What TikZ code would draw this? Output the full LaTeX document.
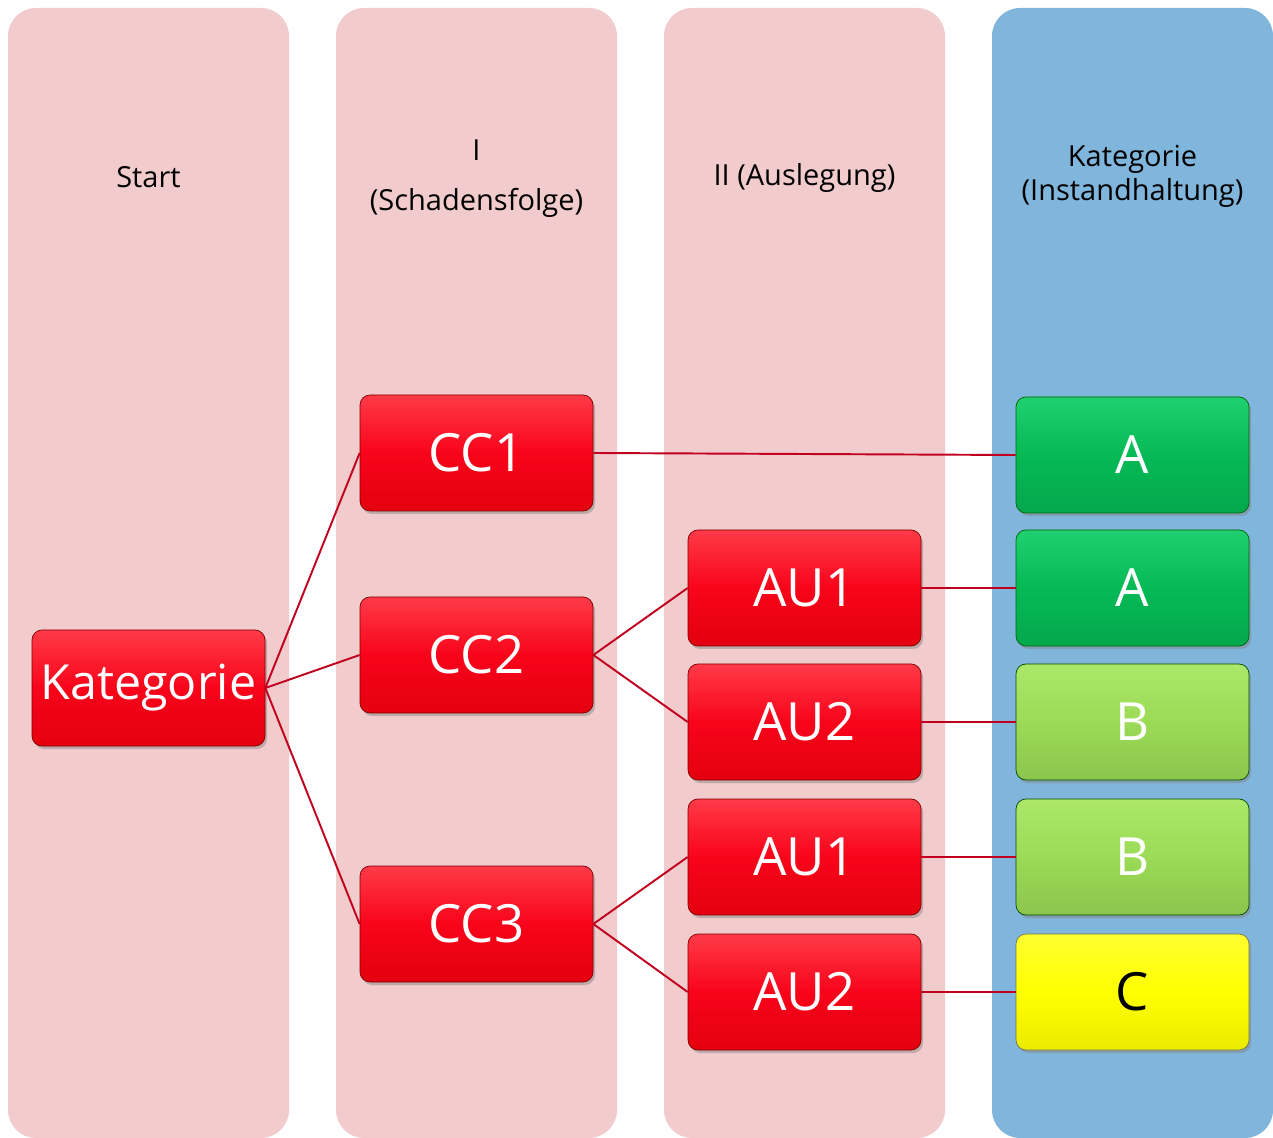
\documentclass[tikz,border=0pt]{standalone}
\usepackage{fontspec}
\setmainfont{Open Sans}
\usepackage{tikz}
\usetikzlibrary{positioning,shadows}
\tikzset{>=latex}
\definecolor{lanepink}{HTML}{F2CBCC}
\definecolor{laneblue}{HTML}{80B5DC}
\definecolor{redtop}{HTML}{FF3A48}
\definecolor{redmid}{HTML}{F8041A}
\definecolor{redbot}{HTML}{E3000F}
\definecolor{redline}{HTML}{C0001E}
\definecolor{greentop}{HTML}{20D070}
\definecolor{greenmid}{HTML}{05BA55}
\definecolor{limetop}{HTML}{ABE86A}
\definecolor{limemid}{HTML}{9BDB56}
\definecolor{yeltop}{HTML}{FFFF30}
\definecolor{yelmid}{HTML}{FFFF00}

\begin{document}
\begin{tikzpicture}[box/.style={rounded corners=0.2cm, minimum width=4.66cm, minimum height=2.32cm, inner sep=0pt,
      text=white, font=\fontsize{30}{34}\selectfont, drop shadow={shadow xshift=0.04cm, shadow yshift=-0.06cm, opacity=0.45}},
    redbox/.style={box, draw=red!50!black, top color=redtop, bottom color=redbot, middle color=redmid},
    greenbox/.style={box, draw=green!40!black, top color=greentop, bottom color=greenmid!90!black, middle color=greenmid},
    limebox/.style={box, draw=green!30!black, top color=limetop, bottom color=limemid!90!black, middle color=limemid},
    yelbox/.style={box, draw=yellow!40!black, top color=yeltop, bottom color=yelmid!92!black, middle color=yelmid, text=black},
    head/.style={align=center, font=\fontsize{16.5}{19.5}\selectfont},
    link/.style={draw=redline, line width=1.1pt},
    node distance=6.56cm, on grid, auto]
	\useasboundingbox (0,0) rectangle (25.46,-22.76);
	% lanes
	\foreach \x/\c in {0.16/lanepink, 6.72/lanepink, 13.28/lanepink, 19.84/laneblue}
		\fill[\c, rounded corners=0.56cm] (\x,-0.16) rectangle ++(5.62,-22.6);
	\node[head] (h0) at (2.97,-3.55) {Start};
	\node[head] (h1) [right=of h0, yshift=-0.03cm] {I\\[0.32cm](Schadensfolge)};
	\node[head] (h2) [right=of h0, xshift=6.56cm] {II (Auslegung)};
	\node[head] (h3) [right=of h2, yshift=0.03cm] {Kategorie\\(Instandhaltung)};
	% tree
	\node[redbox] (kat) at (2.97,-13.76) {\fontsize{27.5}{32}\selectfont Kategorie};
	\node[redbox] (cc1) [above right=4.70cm and 6.56cm of kat] {CC1};
	\node[redbox] (cc2) [above right=0.66cm and 6.56cm of kat] {CC2};
	\node[redbox] (cc3) [below right=4.72cm and 6.56cm of kat] {CC3};
	\node[redbox] (au1) [above right=1.34cm and 6.56cm of cc2] {AU1};
	\node[redbox] (au2) [below=2.68cm of au1] {AU2};
	\node[redbox] (au3) [below=2.70cm of au2] {AU1};
	\node[redbox] (au4) [below=2.70cm of au3] {AU2};
	\node[greenbox] (ka1) [right=of cc1, xshift=6.56cm, yshift=-0.04cm] {A};
	\node[greenbox] (ka2) [right=of au1] {A};
	\node[limebox] (ka3) [right=of au2] {B};
	\node[limebox] (ka4) [right=of au3] {B};
	\node[yelbox] (ka5) [right=of au4] {C};
	\path[link]
		(kat.east) edge (cc1.west) edge (cc2.west) edge (cc3.west)
		(cc1.east) edge (ka1.west)
		(cc2.east) edge (au1.west) edge (au2.west)
		(cc3.east) edge (au3.west) edge (au4.west)
		(au1.east) edge (ka2.west)
		(au2.east) edge (ka3.west)
		(au3.east) edge (ka4.west)
		(au4.east) edge (ka5.west);
\end{tikzpicture}
\end{document}
